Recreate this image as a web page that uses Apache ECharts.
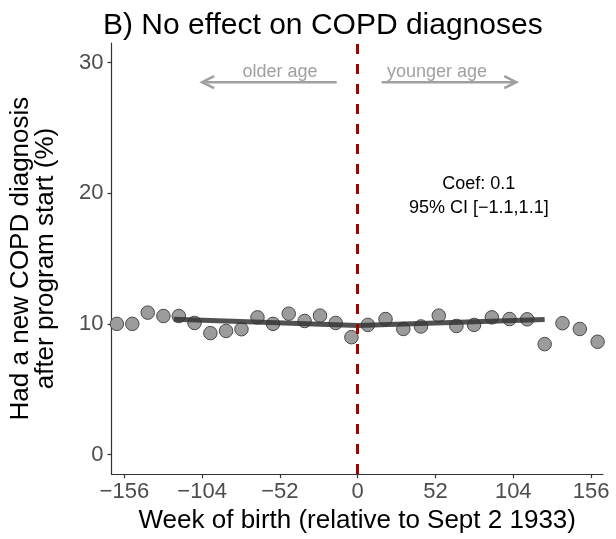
<!DOCTYPE html>
<html>
<head>
<meta charset="utf-8">
<script src="https://cdn.jsdelivr.net/npm/echarts@6/dist/echarts.min.js"></script>
<style>
html,body{margin:0;padding:0;background:#fff;}
#chart{width:616px;height:539px;}
</style>
</head>
<body>
<div id="chart"></div>
<script>
// ---- data ----
var weekLeft = [-161, -150.7, -140.4, -129.9, -119.6, -109.1, -98.5, -88, -77.7, -67, -56.6, -46.1, -35.5, -25.2, -14.7, -4.2];
var rateLeft = [10.0, 10.0, 10.86, 10.6, 10.6, 10.07, 9.29, 9.46, 9.59, 10.5, 10.0, 10.78, 10.22, 10.63, 10.07, 8.98];
var weekRight = [6.8, 18.6, 30.5, 42.3, 54.2, 66.0, 77.8, 89.7, 101.5, 113.3, 125.0, 136.9, 148.5, 160.4];
var rateRight = [9.92, 10.37, 9.61, 9.8, 10.63, 9.84, 9.92, 10.5, 10.37, 10.35, 8.45, 10.05, 9.61, 8.63];
var fitLeftX = [-123, 0];
var fitLeftY = [10.35, 9.87];
var fitRightX = [0, 125];
var fitRightY = [9.88, 10.33];
var xTicks = [-156, -104, -52, 0, 52, 104, 156];
var yTicks = [0, 10, 20, 30];
var arrowFrom = [-14, 16];
var arrowTo = [-104, 106];
var arrowY = 28.5;
var arrowText = ['older age', 'younger age'];
var arrowTextX = [-52, 53];
var arrowTextY = 29.3;
var coefText = 'Coef: 0.1\n95% CI [\u22121.1,1.1]';
var coefPos = [81, 19.8];

var FONT = '"Liberation Sans", Arial, Helvetica, sans-serif';

function zip(a, b) { return a.map(function (v, i) { return [v, b[i]]; }); }
function fmt(v) { return String(v).replace('-', '\u2212'); }

var chart = echarts.init(document.getElementById('chart'), null, {renderer: 'canvas'});

var option = {
  animation: false,
  backgroundColor: '#fff',
  textStyle: {fontFamily: FONT},
  title: {
    text: 'B) No effect on COPD diagnoses',
    left: 98, top: 6,
    textStyle: {fontFamily: FONT, fontSize: 30, fontWeight: 'normal', color: '#000'}
  },
  grid: {left: 104, right: 13, top: 43, bottom: 60, containLabel: false},
  xAxis: {
    type: 'value', min: -164.6, max: 164,
    name: 'Week of birth (relative to Sept 2 1933)',
    nameLocation: 'middle', nameGap: 31,
    nameTextStyle: {fontFamily: FONT, fontSize: 26, color: '#000'},
    axisLine: {show: true, onZero: false, lineStyle: {color: '#333', width: 1.2}},
    axisTick: {show: true, length: 4, customValues: xTicks, lineStyle: {color: '#333', width: 1.2}},
    axisLabel: {customValues: xTicks, formatter: fmt, fontFamily: FONT, fontSize: 22, color: '#4D4D4D', margin: 7},
    splitLine: {show: false}
  },
  yAxis: {
    type: 'value', min: -1.5, max: 31.5,
    name: 'Had a new COPD diagnosis\nafter program start (%)',
    nameLocation: 'middle', nameGap: 53, nameRotate: 90,
    nameTextStyle: {fontFamily: FONT, fontSize: 26, color: '#000', lineHeight: 25},
    axisLine: {show: true, onZero: false, lineStyle: {color: '#333', width: 1.2}},
    axisTick: {show: true, length: 4, customValues: yTicks, lineStyle: {color: '#333', width: 1.2}},
    axisLabel: {customValues: yTicks, fontFamily: FONT, fontSize: 22, color: '#4D4D4D', margin: 8},
    splitLine: {show: false}
  },
  series: [
    {
      type: 'scatter',
      data: zip(weekLeft, rateLeft).concat(zip(weekRight, rateRight)),
      symbol: 'circle', symbolSize: 13.5,
      itemStyle: {color: '#9c9c9c', borderColor: '#4a4a4a', borderWidth: 1, opacity: 1},
      z: 2,
      markLine: {
        silent: true, symbol: ['none', 'none'],
        label: {show: false},
        lineStyle: {color: '#A50000', width: 3, type: [10, 10]},
        data: [{xAxis: 0}]
      }
    },
    {
      type: 'line', data: zip(fitLeftX, fitLeftY), symbol: 'none',
      lineStyle: {color: '#333', width: 5, opacity: 0.85}, z: 3
    },
    {
      type: 'line', data: zip(fitRightX, fitRightY), symbol: 'none',
      lineStyle: {color: '#333', width: 5, opacity: 0.85}, z: 3
    },
    {
      type: 'custom',
      data: arrowFrom.map(function (v, i) { return [v, arrowTo[i], arrowY, arrowTextX[i], arrowTextY]; }),
      renderItem: function (params, api) {
        var i = params.dataIndex;
        var p1 = api.coord([api.value(0), api.value(2)]);
        var p2 = api.coord([api.value(1), api.value(2)]);
        var dir = p2[0] > p1[0] ? 1 : -1;
        var hx = 12, hy = 6;
        var pt = api.coord([api.value(3), api.value(4)]);
        return {
          type: 'group',
          children: [
            {type: 'line', shape: {x1: p1[0], y1: p1[1], x2: p2[0], y2: p2[1]},
             style: {stroke: '#A0A0A0', lineWidth: 2.6}},
            {type: 'polyline', shape: {points: [[p2[0] - dir * hx, p2[1] - hy], [p2[0], p2[1]], [p2[0] - dir * hx, p2[1] + hy]]},
             style: {stroke: '#A0A0A0', lineWidth: 2.6, fill: null}},
            {type: 'text', x: pt[0], y: pt[1],
             style: {text: arrowText[i], fill: '#A0A0A0', font: '18px ' + FONT, align: 'center', verticalAlign: 'middle'}}
          ]
        };
      },
      z: 4
    },
    {
      type: 'custom',
      data: [coefPos],
      renderItem: function (params, api) {
        var p = api.coord([api.value(0), api.value(1)]);
        return {
          type: 'text', x: p[0], y: p[1],
          style: {text: coefText, fill: '#000', font: '18px ' + FONT, align: 'center', verticalAlign: 'middle', lineHeight: 24}
        };
      },
      z: 4
    }
  ]
};
chart.setOption(option);
</script>
</body>
</html>
